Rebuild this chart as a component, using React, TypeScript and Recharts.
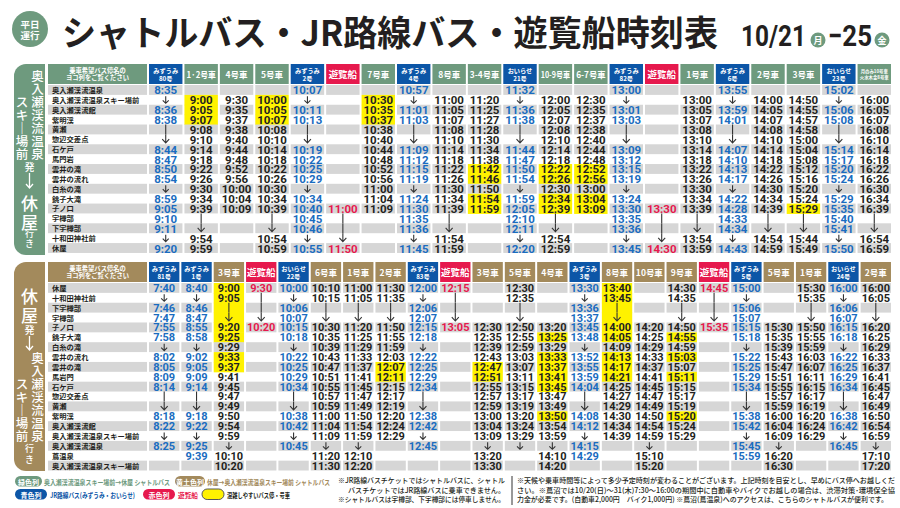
import React from "react"
import { ScatterChart, Scatter, XAxis, YAxis } from "recharts"

const GREEN = "#6e9a7e"
const GOLD = "#a38a5c"
const NAVY = "#0c56a7"
const RED = "#e6194d"
const BLUE = "#1a6cc0"
const GRAY = "#d6d6d6"
const YELLOW = "#fff200"
const INK = "#231f20"
const AR = "#333333"
const JP = "'Noto Sans CJK JP', 'Noto Sans', sans-serif"
const NUM = "Roboto, 'Noto Sans', sans-serif"

// 奥入瀬渓流温泉スキー場前 発 → 休屋 行き
const upStops = ["奥入瀬渓流温泉", "奥入瀬渓流温泉スキー場前", "奥入瀬渓流館", "紫明渓", "黄瀬", "惣辺交差点", "石ケ戸", "馬門岩", "雲井の滝", "雲井の流れ", "白糸の滝", "銚子大滝", "子ノ口", "宇樽部", "下宇樽部", "十和田神社前", "休屋"]
const upHeads = ["みずうみ\n80号", "1·2号車", "4号車", "5号車", "みずうみ\n2号", "遊覧船", "7号車", "みずうみ\n4号", "8号車", "3-4号車", "おいらせ\n21号", "10-9号車", "6-7号車", "みずうみ\n82号", "遊覧船", "1号車", "みずうみ\n6号", "2号車", "3号車", "おいらせ\n23号", "月のみ10号車\n火水木金8号車"]
// b = JR路線バス, s = シャトルバス, f = 遊覧船
const upKinds = ["b", "s", "s", "s", "b", "f", "s", "b", "s", "s", "b", "s", "s", "b", "f", "s", "b", "s", "s", "b", "s"]
// "v" 通過, "|" / "V" 長い矢印, "*" 混雑しやすい
const upTimes = [
  ["8:35", "v", "8:36", "8:38", "|", "V", "8:44", "8:47", "8:50", "8:54", "v", "8:59", "9:05", "9:10", "9:11", "v", "9:20"],
  ["", "9:00*", "9:05*", "9:07*", "9:08", "9:10", "9:14", "9:18", "9:22", "9:26", "9:30", "9:34", "9:39", "|", "V", "9:54", "9:59"],
  ["", "9:30", "9:35", "9:37", "9:38", "9:40", "9:44", "9:48", "9:52", "9:56", "10:00", "10:04", "10:09", "", "", "", ""],
  ["", "10:00*", "10:05*", "10:07*", "10:08", "10:10", "10:14", "10:18", "10:22", "10:26", "10:30", "10:34", "10:39", "|", "V", "10:54", "10:59"],
  ["10:07", "v", "10:11", "10:13", "|", "V", "10:19", "10:22", "10:25", "10:29", "v", "10:34", "10:40", "10:45", "10:46", "v", "10:55"],
  ["", "", "", "", "", "", "", "", "", "", "", "", "11:00", "|", "|", "V", "11:50"],
  ["", "10:30*", "10:35*", "10:37*", "10:38", "10:40", "10:44", "10:48", "10:52", "10:56", "11:00", "11:04", "11:09", "", "", "", ""],
  ["10:57", "v", "11:01", "11:03", "|", "V", "11:09", "11:12", "11:15", "11:19", "v", "11:24", "11:30", "11:35", "11:36", "v", "11:45"],
  ["", "11:00", "11:05", "11:07", "11:08", "11:10", "11:14", "11:18", "11:22", "11:26", "11:30", "11:34", "11:39", "|", "V", "11:54", "11:59"],
  ["", "11:20", "11:25", "11:27", "11:28", "11:30", "11:34", "11:38", "11:42*", "11:46*", "11:50", "11:54*", "11:59*", "", "", "", ""],
  ["11:32", "v", "11:36", "11:38", "|", "V", "11:44", "11:47", "11:50", "11:54", "v", "11:59", "12:05", "12:10", "12:11", "v", "12:20"],
  ["", "12:00", "12:05", "12:07", "12:08", "12:10", "12:14", "12:18", "12:22*", "12:26*", "12:30", "12:34*", "12:39*", "|", "V", "12:54", "12:59"],
  ["", "12:30", "12:35", "12:37", "12:38", "12:40", "12:44", "12:48", "12:52*", "12:56*", "13:00", "13:04*", "13:09*", "", "", "", ""],
  ["13:00", "v", "13:01", "13:03", "|", "V", "13:09", "13:12", "13:15", "13:19", "v", "13:24", "13:30", "13:35", "13:36", "v", "13:45"],
  ["", "", "", "", "", "", "", "", "", "", "", "", "13:30", "|", "|", "V", "14:30"],
  ["", "13:00", "13:05", "13:07", "13:08", "13:10", "13:14", "13:18", "13:22", "13:26", "13:30", "13:34", "13:39", "|", "V", "13:54", "13:59"],
  ["13:55", "v", "13:59", "14:01", "|", "V", "14:07", "14:10", "14:13", "14:17", "v", "14:22", "14:28", "14:33", "14:34", "v", "14:43"],
  ["", "14:00", "14:05", "14:07", "14:08", "14:10", "14:14", "14:18", "14:22", "14:26", "14:30", "14:34", "14:39", "|", "V", "14:54", "14:59"],
  ["", "14:50", "14:55", "14:57", "14:58", "15:00", "15:04", "15:08", "15:12", "15:16", "15:20", "15:24", "15:29*", "|", "V", "15:44", "15:49"],
  ["15:02", "v", "15:06", "15:08", "|", "V", "15:14", "15:17", "15:20", "15:24", "v", "15:29", "15:35", "15:40", "15:41", "v", "15:50"],
  ["", "16:00", "16:05", "16:07", "16:08", "16:10", "16:14", "16:18", "16:22", "16:26", "16:30", "16:34", "16:39", "|", "V", "16:54", "16:59"],
]

// 休屋 発 → 奥入瀬渓流温泉スキー場前 行き
const dnStops = ["休屋", "十和田神社前", "下宇樽部", "宇樽部", "子ノ口", "銚子大滝", "白糸の滝", "雲井の流れ", "雲井の滝", "馬岩門", "石ケ戸", "惣辺交差点", "黄瀬", "紫明渓", "奥入瀬渓流館", "奥入瀬渓流温泉スキー場前", "奥入瀬渓流温泉", "蔦温泉", "奥入瀬渓流温泉スキー場前"]
const dnHeads = ["みずうみ\n81号", "みずうみ\n1号", "3号車", "遊覧船", "おいらせ\n22号", "6号車", "1号車", "2号車", "みずうみ\n83号", "遊覧船", "3号車", "5号車", "4号車", "みずうみ\n3号", "8号車", "10号車", "9号車", "遊覧船", "みずうみ\n5号", "5号車", "1号車", "おいらせ\n24号", "2号車"]
const dnKinds = ["b", "b", "s", "f", "b", "s", "s", "s", "b", "f", "s", "s", "s", "b", "s", "s", "s", "f", "b", "s", "s", "b", "s"]
const dnTimes = [
  ["7:40", "v", "7:46", "7:47", "7:55", "7:58", "v", "8:02", "8:05", "8:09", "8:14", "|", "V", "8:18", "8:22", "v", "8:25", "", ""],
  ["8:40", "v", "8:46", "8:47", "8:55", "8:58", "v", "9:02", "9:05", "9:09", "9:14", "|", "V", "9:18", "9:22", "v", "9:25", "9:39", ""],
  ["9:00*", "9:05*", "|*", "V*", "9:20*", "9:25*", "9:29", "9:33*", "9:37*", "9:41", "9:45", "9:47", "9:49", "9:50", "9:54", "9:59", "v", "10:10", "10:20"],
  ["9:30", "|", "|", "V", "10:20", "", "", "", "", "", "", "", "", "", "", "", "", "", ""],
  ["10:00", "v", "10:06", "10:07", "10:15", "10:18", "v", "10:22", "10:25", "10:29", "10:34", "|", "V", "10:38", "10:42", "v", "10:45", "", ""],
  ["10:10", "10:15", "|", "V", "10:30", "10:35", "10:39", "10:43", "10:47", "10:51", "10:55", "10:57", "10:59", "11:00", "11:04", "11:09", "v", "11:20", "11:30"],
  ["11:00", "11:05", "|", "V", "11:20", "11:25", "11:29", "11:33", "11:37", "11:41", "11:45", "11:47", "11:49", "11:50", "11:54", "11:59", "v", "12:10", "12:20"],
  ["11:30", "11:35", "|", "V", "11:50", "11:55", "11:59", "12:03", "12:07*", "12:11*", "12:15", "12:17", "12:19", "12:20", "12:24", "12:29", "", "", ""],
  ["12:00", "v", "12:06", "12:07", "12:15", "12:18", "v", "12:22", "12:25", "12:29", "12:34", "|", "V", "12:38", "12:42", "v", "12:45", "", ""],
  ["12:15", "|", "|", "V", "13:05", "", "", "", "", "", "", "", "", "", "", "", "", "", ""],
  ["", "", "", "", "12:30", "12:35", "12:39", "12:43", "12:47*", "12:51*", "12:55", "12:57", "12:59", "13:00", "13:04", "13:09", "v", "13:20", "13:30"],
  ["12:30", "12:35", "|", "V", "12:50", "12:55", "12:59", "13:03", "13:07", "13:11", "13:15", "13:17", "13:19", "13:20", "13:24", "13:29", "v", "", ""],
  ["", "", "", "", "13:20", "13:25*", "13:29", "13:33*", "13:37*", "13:41*", "13:45*", "13:47", "13:49", "13:50*", "13:54", "13:59", "v", "14:10", "14:20"],
  ["13:30", "v", "13:36", "13:37", "13:45", "13:48", "v", "13:52", "13:55", "13:59", "14:04", "|", "V", "14:08", "14:12", "v", "14:15", "14:29", ""],
  ["13:40*", "13:45*", "|*", "V*", "14:00*", "14:05*", "14:09", "14:13*", "14:17*", "14:21*", "14:25", "14:27", "14:29", "14:30", "14:34", "14:39", "", "", ""],
  ["", "", "", "", "14:20", "14:25", "14:29", "14:33", "14:37", "14:41", "14:45", "14:47", "14:49", "14:50", "14:54", "14:59", "v", "15:10", "15:20"],
  ["14:30", "14:35", "|", "V", "14:50", "14:55*", "14:59", "15:03*", "15:07", "15:11*", "15:15", "15:17", "15:19", "15:20*", "15:24", "15:29", "", "", ""],
  ["14:45", "|", "|", "V", "15:35", "", "", "", "", "", "", "", "", "", "", "", "", "", ""],
  ["15:00", "v", "15:06", "15:07", "15:15", "15:18", "v", "15:22", "15:25", "15:29", "15:34", "|", "V", "15:38", "15:42", "v", "15:45", "15:59", ""],
  ["", "", "", "", "15:30", "15:35", "15:39", "15:43", "15:47", "15:51", "15:55", "15:57", "15:59", "16:00", "16:04", "16:09", "v", "16:20", "16:30"],
  ["15:30", "15:35", "|", "V", "15:50", "15:55", "15:59", "16:03", "16:07", "16:11", "16:15", "16:17", "16:19", "16:20", "16:24", "16:29", "", "", ""],
  ["16:00", "v", "16:06", "16:07", "16:15", "16:18", "v", "16:22", "16:25", "16:29", "16:34", "|", "V", "16:38", "16:42", "v", "16:45", "", ""],
  ["16:00", "16:05", "|", "V", "16:20", "16:25", "16:29", "16:33", "16:37", "16:41", "16:45", "16:47", "16:49", "16:50", "16:54", "16:59", "v", "17:10", "17:20"],
]

const notesMid = [
  "※JR路線バスチケットではシャトルバスに、シャトル",
  "バスチケットではJR路線バスに乗車できません。",
  "※シャトルバスは宇樽部、下宇樽部には停車しません。",
]
const notesRight = [
  "※天候や乗車時間等によって多少予定時刻が変わることがございます。上記時刻を目安とし、早めにバス停へお越しくだ",
  "さい。※蔦沼では10/20(日)～31(木)7:30～16:00の期間中に自動車やバイクでお越しの場合は、渋滞対策･環境保全協",
  "力金が必要です。(自動車2,000円　バイク1,000円) ※蔦沼(蔦温泉)へのアクセスは、こちらのシャトルバスが便利です。",
]

const PLOT_W = 744
const HEAD_H = 21
const PAD_B = 6

function headTick(heads: string[], kinds: string[], colW: number, sFill: string) {
  return (p: any) => {
    const c = Math.floor(p.payload.value)
    const k = kinds[c]
    const fill = k === "b" ? NAVY : k === "f" ? RED : sFill
    const lines = heads[c].split("\n")
    const x = p.x
    const w = colW - 2
    const common = { x, textAnchor: "middle" as const, dominantBaseline: "central" as const, fill: "#fff", fontFamily: JP, fontWeight: 700 }
    let content: any
    if (k === "f") {
      content = <text {...common} y={10.5} fontSize={9.5}>{lines[0]}</text>
    } else if (lines.length === 2) {
      const fs = k === "b" ? 6.2 : 4.4
      content = (
        <g>
          <text {...common} y={k === "b" ? 6.5 : 7.5} fontSize={fs}>{lines[0]}</text>
          <text {...common} y={k === "b" ? 14.5 : 13} fontSize={fs}>{lines[1]}</text>
        </g>
      )
    } else {
      const est = lines[0].replace(/[号車]/g, "").length * 4.8 + 17
      content = (
        <text {...common} y={10.5} fontSize={8.5} {...(est > w - 3 ? { textLength: w - 4, lengthAdjust: "spacingAndGlyphs" } : {})}>
          {lines[0]}
        </text>
      )
    }
    return (
      <g>
        <rect x={x - w / 2} y={0} width={w} height={20} fill={fill} />
        {content}
      </g>
    )
  }
}

function stopTick(stops: string[], rowH: number) {
  return (p: any) => {
    const r = Math.floor(p.payload.value)
    return (
      <g>
        {r % 2 === 0 && <rect x={48} y={p.y - rowH / 2} width={99} height={rowH} fill={GRAY} />}
        <text x={52} y={p.y} dominantBaseline="central" fontSize={7.3} fontWeight={700} fill={INK} fontFamily={JP}>
          {stops[r]}
        </text>
      </g>
    )
  }
}

function cellShape(kinds: string[], colW: number, rowH: number, fs: number) {
  return (p: any) => {
    const { cx, cy, payload } = p
    if (cx == null || cy == null) return <g />
    const raw = payload.v as string
    const hl = raw.endsWith("*")
    const v = hl ? raw.slice(0, -1) : raw
    const w = colW - 2
    const top = cy - rowH / 2
    const bg = hl ? YELLOW : payload.r % 2 === 0 ? GRAY : null
    const k = kinds[payload.c]
    const color = k === "b" ? BLUE : k === "f" ? RED : INK
    let mark: any = null
    if (v === "v") {
      mark = <path d={`M${cx},${cy - 3.5} V${cy + 3.5} M${cx - 3},${cy + 0.5} L${cx},${cy + 3.5} L${cx + 3},${cy + 0.5}`} stroke={AR} strokeWidth={1.1} fill="none" />
    } else if (v === "|") {
      mark = <line x1={cx} x2={cx} y1={top} y2={top + rowH} stroke={AR} strokeWidth={1.1} />
    } else if (v === "V") {
      mark = <path d={`M${cx},${top} V${cy + 3.5} M${cx - 3.5},${cy - 0.3} L${cx},${cy + 3.5} L${cx + 3.5},${cy - 0.3}`} stroke={AR} strokeWidth={1.1} fill="none" />
    } else if (v) {
      mark = (
        <text x={cx} y={cy + 0.5} textAnchor="middle" dominantBaseline="central" fontFamily={NUM} fontWeight={700} fontSize={fs} fill={color}>
          {v}
        </text>
      )
    }
    return (
      <g>
        {bg && <rect x={cx - w / 2} y={top} width={w} height={rowH + (hl ? 0.5 : 0)} fill={bg} />}
        {mark}
      </g>
    )
  }
}

function Timetable({ top, stops, heads, kinds, times, sFill, rowH, fs }: any) {
  const nC = heads.length
  const nR = stops.length
  const colW = PLOT_W / nC
  const height = HEAD_H + nR * rowH + PAD_B
  const cells = (times as string[][]).flatMap((col, c) => col.map((v, r) => ({ x: c + 0.5, y: r + 0.5, c, r, v })))
  return (
    <div style={{ position: "absolute", left: 0, top }}>
      <ScatterChart width={900} height={height} margin={{ top: 0, right: 8, bottom: PAD_B, left: 48 }}>
        <XAxis
          type="number"
          dataKey="x"
          orientation="top"
          domain={[0, nC]}
          ticks={heads.map((_: string, i: number) => i + 0.5)}
          interval={0}
          height={HEAD_H}
          axisLine={false}
          tickLine={false}
          tick={headTick(heads, kinds, colW, sFill)}
        />
        <YAxis
          type="number"
          dataKey="y"
          domain={[0, nR]}
          reversed
          ticks={stops.map((_: string, i: number) => i + 0.5)}
          interval={0}
          width={100}
          axisLine={false}
          tickLine={false}
          tick={stopTick(stops, rowH)}
        />
        <Scatter data={cells} isAnimationActive={false} shape={cellShape(kinds, colW, rowH, fs)} />
      </ScatterChart>
    </div>
  )
}

function Panel({ y0, y1, fill, chars, arrow }: any) {
  const x0 = 14, x1 = 45, r = 12
  const d = `M${x0 + r},${y0} H${x1} V${y1} H${x0 + r} A${r},${r} 0 0 1 ${x0},${y1 - r} V${y0 + r} A${r},${r} 0 0 1 ${x0 + r},${y0} Z`
  return (
    <g>
      <path d={d} fill={fill} />
      {chars.map(([t, x, y, s]: any, i: number) => (
        <text key={i} x={x} y={y} fontSize={s} textAnchor="middle" dominantBaseline="central" fill="#fff" fontFamily={JP} fontWeight={500}>
          {t}
        </text>
      ))}
      <path d={`M29.5,${arrow[0]} V${arrow[1]} M26,${arrow[1] - 4} L29.5,${arrow[1]} L33,${arrow[1] - 4}`} stroke="#fff" strokeWidth={1.3} fill="none" />
    </g>
  )
}

const colPair = (top: number) => [
  ["瀬", 37.5, top], ["渓", 37.5, top + 13], ["流", 37.5, top + 26], ["温", 37.5, top + 39], ["泉", 37.5, top + 52],
  ["ス", 22, top], ["キ", 22, top + 13], ["｜", 22, top + 26], ["場", 22, top + 39], ["前", 22, top + 52],
].map(([t, x, y]) => [t, x, y, 12.5])

function Pill({ x, y, w, fill, label, stroke }: any) {
  return (
    <g>
      <rect x={x} y={y} width={w} height={10.5} rx={5.2} fill={fill} stroke={stroke || "none"} strokeWidth={1} />
      {label && (
        <text x={x + w / 2} y={y + 5.5} textAnchor="middle" dominantBaseline="central" fontSize={7} fontWeight={700} fill="#fff" fontFamily={JP}>
          {label}
        </text>
      )}
    </g>
  )
}

function Decor() {
  const t = { fontFamily: JP, fontWeight: 700, dominantBaseline: "central" as const }
  return (
    <svg width={900} height={508} style={{ position: "absolute", left: 0, top: 0 }}>
      <circle cx={30} cy={29} r={18} fill={GREEN} />
      <text {...t} x={30} y={24} fontSize={9.5} textAnchor="middle" fill="#fff">平日</text>
      <text {...t} x={30} y={35} fontSize={9.5} textAnchor="middle" fill="#fff">運行</text>
      <text x={62} y={46} fontSize={35} fontWeight={700} fontFamily={JP} fill={INK} textLength={656} lengthAdjust="spacingAndGlyphs">
        シャトルバス・JR路線バス・遊覧船時刻表
      </text>
      <text x={741} y={46} fontSize={30} fontWeight={700} fontFamily={NUM} fill={INK} textLength={65} lengthAdjust="spacingAndGlyphs">10/21</text>
      <circle cx={818} cy={40} r={7.5} fill={GREEN} />
      <text {...t} x={818} y={40.5} fontSize={9} textAnchor="middle" fill="#fff">月</text>
      <text x={828} y={46} fontSize={30} fontWeight={700} fontFamily={NUM} fill={INK} textLength={44} lengthAdjust="spacingAndGlyphs">−25</text>
      <circle cx={882} cy={40} r={7.5} fill={GREEN} />
      <text {...t} x={882} y={40.5} fontSize={9} textAnchor="middle" fill="#fff">金</text>

      <Panel
        y0={64}
        y1={255}
        fill={GREEN}
        arrow={[173, 188]}
        chars={[
          ["奥", 37.5, 75, 12.5], ["入", 37.5, 88, 12.5], ...colPair(101),
          ["発", 29.5, 166, 10], ["休", 29.5, 202, 17], ["屋", 29.5, 221, 17], ["行", 29.5, 233, 9], ["き", 29.5, 243, 9],
        ]}
      />
      <Panel
        y0={262}
        y1={471}
        fill={GOLD}
        arrow={[336, 350]}
        chars={[
          ["休", 29.5, 295, 17], ["屋", 29.5, 314, 17], ["発", 29.5, 329, 10],
          ["奥", 37.5, 357, 12.5], ["入", 37.5, 370, 12.5], ...colPair(383),
          ["行", 29.5, 448, 9], ["き", 29.5, 459, 9],
        ]}
      />

      {[{ y: 64, fill: GREEN }, { y: 262, fill: GOLD }].map((h, i) => (
        <g key={i}>
          <rect x={48} y={h.y} width={99} height={20} fill={h.fill} />
          <text {...t} x={97.5} y={h.y + 6.5} fontSize={6.3} textAnchor="middle" fill="#fff">乗車希望バス停名の</text>
          <text {...t} x={97.5} y={h.y + 13.5} fontSize={6.3} textAnchor="middle" fill="#fff">ヨコ列をご覧ください</text>
        </g>
      ))}

      <Pill x={15} y={476} w={27} fill={GREEN} label="緑色列" />
      <text {...t} x={44} y={481.5} fontSize={7} fill={GREEN} textLength={126} lengthAdjust="spacingAndGlyphs">奥入瀬渓流温泉スキー場前→休屋 シャトルバス</text>
      <Pill x={175} y={476} w={30} fill={GOLD} label="黄土色列" />
      <text {...t} x={207} y={481.5} fontSize={7} fill={GOLD} textLength={123} lengthAdjust="spacingAndGlyphs">休屋→奥入瀬渓流温泉スキー場前 シャトルバス</text>
      <Pill x={15} y={489} w={32} fill={NAVY} label="青色列" />
      <text {...t} x={50} y={494.5} fontSize={7} fill={NAVY} textLength={85} lengthAdjust="spacingAndGlyphs">JR路線バス(みずうみ・おいらせ)</text>
      <Pill x={143} y={489} w={32} fill={RED} label="赤色列" />
      <text {...t} x={178} y={494.5} fontSize={7} fill={RED} textLength={20} lengthAdjust="spacingAndGlyphs">遊覧船</text>
      <Pill x={202} y={489} w={22} fill={YELLOW} stroke="#555" />
      <text {...t} x={227} y={494.5} fontSize={7} fill={INK} textLength={63} lengthAdjust="spacingAndGlyphs">混雑しやすいバス停・号車</text>

      {notesMid.map((s, i) => (
        <text key={i} {...t} fontWeight={500} x={i === 1 ? 348 : 338} y={480 + i * 9.5} fontSize={7} fill={INK} textLength={i === 1 ? 157 : 167} lengthAdjust="spacingAndGlyphs">
          {s}
        </text>
      ))}
      <line x1={512} x2={512} y1={476} y2={505} stroke="#333" strokeWidth={1} />
      {notesRight.map((s, i) => (
        <text key={i} {...t} fontWeight={500} x={517} y={480 + i * 9.5} fontSize={7} fill={INK} textLength={i === 2 ? 371 : 378} lengthAdjust="spacingAndGlyphs">
          {s}
        </text>
      ))}
    </svg>
  )
}

export default function App() {
  return (
    <div style={{ position: "absolute", left: 0, top: 0, width: 900, height: 508, background: "#fff", overflow: "hidden" }}>
      <Decor />
      <Timetable top={64} stops={upStops} heads={upHeads} kinds={upKinds} times={upTimes} sFill={GREEN} rowH={9.88} fs={11.5} />
      <Timetable top={262} stops={dnStops} heads={dnHeads} kinds={dnKinds} times={dnTimes} sFill={GOLD} rowH={9.87} fs={11} />
    </div>
  )
}
